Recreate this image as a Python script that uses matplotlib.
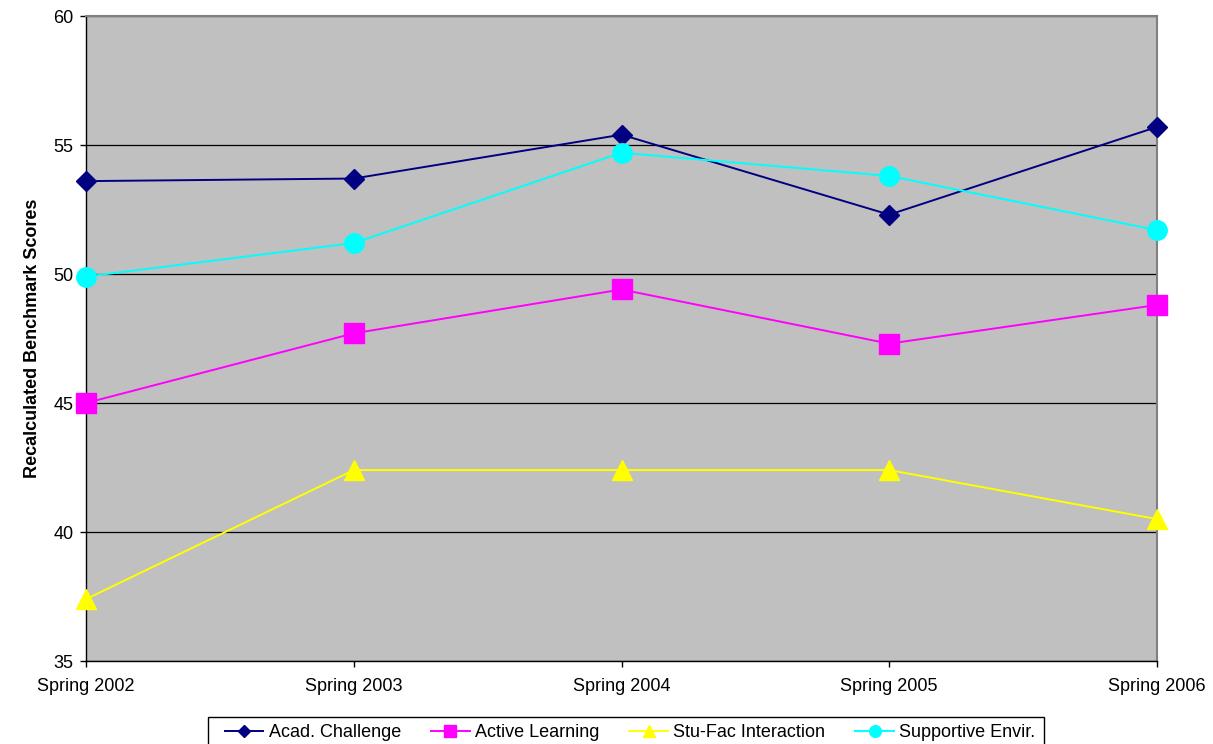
import matplotlib
matplotlib.use("Agg")
import matplotlib.pyplot as plt
from matplotlib.patches import Rectangle

# data
terms = ["Spring 2002", "Spring 2003", "Spring 2004", "Spring 2005", "Spring 2006"]
acad_challenge = [53.6, 53.7, 55.4, 52.3, 55.7]
active_learning = [45.0, 47.7, 49.4, 47.3, 48.8]
stu_fac = [37.4, 42.4, 42.4, 42.4, 40.5]
supportive_env = [49.9, 51.2, 54.7, 53.8, 51.7]

plt.rcParams["font.family"] = ["Liberation Sans", "DejaVu Sans"]

fig = plt.figure(figsize=(12.13, 7.44), dpi=100)
ax = fig.add_axes([86 / 1213, 1 - 661 / 744, (1157 - 86) / 1213, (661 - 16) / 744])
ax.set_facecolor("#C0C0C0")

x = list(range(len(terms)))
ax.plot(x, acad_challenge, color="#000080", marker="D", ms=10, lw=1.4, label="Acad. Challenge", zorder=3, clip_on=False)
ax.plot(x, active_learning, color="#FF00FF", marker="s", ms=14, lw=1.4, label="Active Learning", zorder=3, clip_on=False)
ax.plot(x, stu_fac, color="#FFFF00", marker="^", ms=14, lw=1.4, label="Stu-Fac Interaction", zorder=3, clip_on=False)
ax.plot(x, supportive_env, color="#00FFFF", marker="o", ms=14, lw=1.4, label="Supportive Envir.", zorder=3, clip_on=False)

ax.set_xlim(0, len(terms) - 1)
ax.set_ylim(35, 60)
ax.set_yticks([35, 40, 45, 50, 55, 60])
ax.set_xticks(x)
ax.set_xticklabels(terms)
ax.yaxis.grid(True, color="black", lw=0.9)
ax.set_axisbelow(True)
ax.tick_params(axis="both", labelsize=13, length=4, width=1, colors="black", direction="out")
ax.tick_params(axis="x", pad=8)
ax.tick_params(axis="y", pad=5)

for side in ["left", "bottom"]:
    ax.spines[side].set_color("black")
    ax.spines[side].set_linewidth(1)
for side in ["top", "right"]:
    ax.spines[side].set_color("#808080")
    ax.spines[side].set_linewidth(1.5)

ax.set_ylabel("Recalculated Benchmark Scores", fontsize=13, fontweight="bold", labelpad=9)

leg = fig.legend(loc="upper center", bbox_to_anchor=(630 / 1213, 1 - 717 / 744), ncol=4,
                 fontsize=13, frameon=False, markerscale=0.6,
                 handlelength=2.15, handletextpad=0.28, columnspacing=1.67,
                 borderpad=0.4, borderaxespad=0)

# square legend box, a bit more room on the left like the original
fig.canvas.draw()
bb = leg.get_window_extent()
x0, y0 = fig.transFigure.inverted().transform((bb.x0 - 9, bb.y0))
x1, y1 = fig.transFigure.inverted().transform((bb.x1 + 1, bb.y1))
fig.add_artist(Rectangle((x0, y0), x1 - x0, y1 - y0, transform=fig.transFigure,
                         fill=False, edgecolor="black", lw=1))

fig.savefig("out.png", dpi=100)
